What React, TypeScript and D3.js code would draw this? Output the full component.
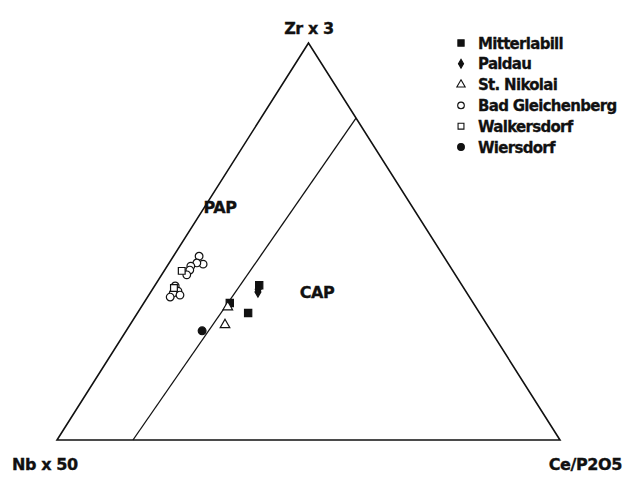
import * as d3 from "d3";

// ternary values [Zr x 3, Nb x 50, Ce/P2O5] in percent
const groups = ["Mitterlabill", "Paldau", "St. Nikolai", "Bad Gleichenberg", "Walkersdorf", "Wiersdorf"];

const mitterlabill = [
  [34.5, 48.4, 17.1],
  [32.0, 46.0, 22.0],
  [39.0, 40.3, 20.7],
];
const paldau = [
  [38.0, 41.0, 21.0],
  [37.3, 41.4, 21.3],
];
const stNikolai = [
  [29.0, 52.1, 18.9],
  [33.5, 49.3, 17.2],
];
const badGleichenberg = [
  [46.3, 48.6, 5.1],
  [44.3, 48.8, 6.9],
  [44.6, 49.9, 5.5],
  [43.8, 51.5, 4.7],
  [42.8, 52.2, 5.0],
  [41.6, 53.4, 5.0],
  [38.8, 57.1, 4.1],
  [37.5, 57.2, 5.3],
  [37.0, 58.4, 4.6],
  [36.5, 57.3, 6.2],
  [36.0, 59.5, 4.5],
];
const walkersdorf = [
  [42.6, 53.9, 3.5],
  [38.3, 57.6, 4.1],
];
const wiersdorf = [
  [27.5, 57.4, 15.1],
];

// PAP / CAP boundary, end points
const boundary = [
  [0, 84.9, 15.1],
  [81.1, 0, 18.9],
];

const series = [mitterlabill, paldau, stNikolai, badGleichenberg, walkersdorf, wiersdorf];
const symbols = [d3.symbolSquare, d3.symbolDiamond, d3.symbolTriangle, d3.symbolCircle, d3.symbolSquare, d3.symbolCircle];
const filled = [true, true, false, false, false, true];
const sizes = [52, 30, 40, 46, 46, 48];

const W = 633, H = 477;
const x = d3.scaleLinear().domain([0, 1]).range([57, 560]);
const y = d3.scaleLinear().domain([0, 1]).range([440, 43]);

const proj = (p: number[]) => {
  const t = p[0] + p[1] + p[2];
  const zr = p[0] / t, ce = p[2] / t;
  return [x(ce + zr / 2), y(zr)];
};

const font = "'DejaVu Sans', sans-serif";

export default function App() {
  const corners = [[100, 0, 0], [0, 100, 0], [0, 0, 100]].map(proj);
  const line = d3.line();
  const b = boundary.map(proj);

  return (
    <svg width={W} height={H} style={{ position: "absolute", left: 0, top: 0, background: "#fff" }}>
      <path d={line(corners) + "Z"} fill="none" stroke="#111" strokeWidth={1.6} />
      <path d={line(b) as string} fill="none" stroke="#111" strokeWidth={1.3} />

      <g fontFamily={font} fontWeight="bold" fill="#111" stroke="#111" strokeWidth={0.35} fontSize={16} letterSpacing={-0.4}>
        <text x={309} y={34} textAnchor="middle">Zr x 3</text>
        <text x={12} y={470}>Nb x 50</text>
        <text x={622} y={470} textAnchor="end">Ce/P2O5</text>
        <text x={220} y={213} textAnchor="middle">PAP</text>
        <text x={317} y={298} textAnchor="middle">CAP</text>
      </g>

      {series.map((pts, i) => (
        <g key={i}>
          {pts.map((p, j) => {
            const [px, py] = proj(p);
            return (
              <path
                key={j}
                transform={`translate(${px},${py})`}
                d={d3.symbol(symbols[i], sizes[i])() as string}
                fill={filled[i] ? "#111" : "#fff"}
                stroke="#111"
                strokeWidth={1.2}
              />
            );
          })}
        </g>
      ))}

      <g fontFamily={font} fontWeight="bold" fill="#111" stroke="#111" strokeWidth={0.3} fontSize={15} letterSpacing={-0.7}>
        {groups.map((g, i) => (
          <g key={g} transform={`translate(0,${43 + i * 20.8})`}>
            <path
              transform="translate(461,0)"
              d={d3.symbol(symbols[i], sizes[i] * 0.75)() as string}
              fill={filled[i] ? "#111" : "#fff"}
              stroke="#111"
              strokeWidth={1.1}
            />
            <text x={478} y={5.5}>{g}</text>
          </g>
        ))}
      </g>
    </svg>
  );
}
